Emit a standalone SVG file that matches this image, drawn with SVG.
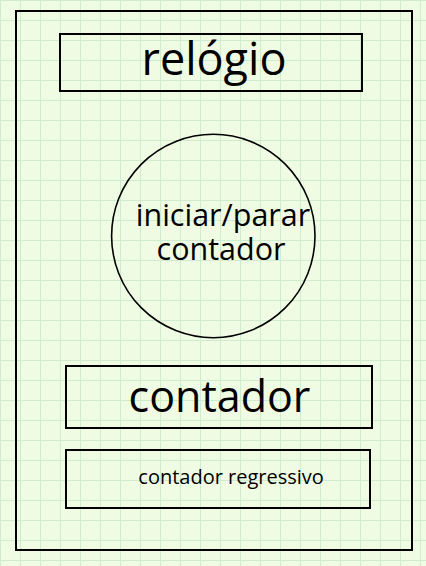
<svg xmlns="http://www.w3.org/2000/svg" width="426" height="566" viewBox="0 0 426 566">
<defs>
<pattern id="grid" x="0" y="0" width="20" height="20" patternUnits="userSpaceOnUse">
<path d="M 0.5 0 V 20 M 0 0.5 H 20" fill="none" stroke="#cfeccf" stroke-width="1"/>
</pattern>
<style>
.box{fill:none;stroke:#000;stroke-width:2}
.circ{fill:none;stroke:#000;stroke-width:1.6}
.t{font-family:"Open Sans","Noto Sans","DejaVu Sans",sans-serif;fill:#000}
</style>
</defs>
<rect x="0" y="0" width="426" height="566" fill="#f0fbe3"/>
<rect x="0" y="0" width="426" height="566" fill="url(#grid)"/>
<g id="connectors"></g>
<g id="frame"><rect class="box" x="16" y="11" width="396" height="539"/></g>
<g id="relogio">
<rect class="box" x="60" y="34" width="302" height="57"/>
<text class="t" x="214" y="75" font-size="45" text-anchor="middle">relógio</text>
</g>
<g id="iniciar">
<circle class="circ" cx="213.3" cy="236" r="101.7"/>
<text class="t" x="223" y="226" font-size="30.5" text-anchor="middle">iniciar/parar</text>
<text class="t" x="221" y="259.5" font-size="30.5" text-anchor="middle">contador</text>
</g>
<g id="contador">
<rect class="box" x="66" y="366" width="306" height="62"/>
<text class="t" x="219.5" y="412" font-size="43" text-anchor="middle">contador</text>
</g>
<g id="regressivo">
<rect class="box" x="66" y="450" width="304" height="58"/>
<text class="t" x="138.3" y="484" font-size="20">contador regressivo</text>
</g>
</svg>
